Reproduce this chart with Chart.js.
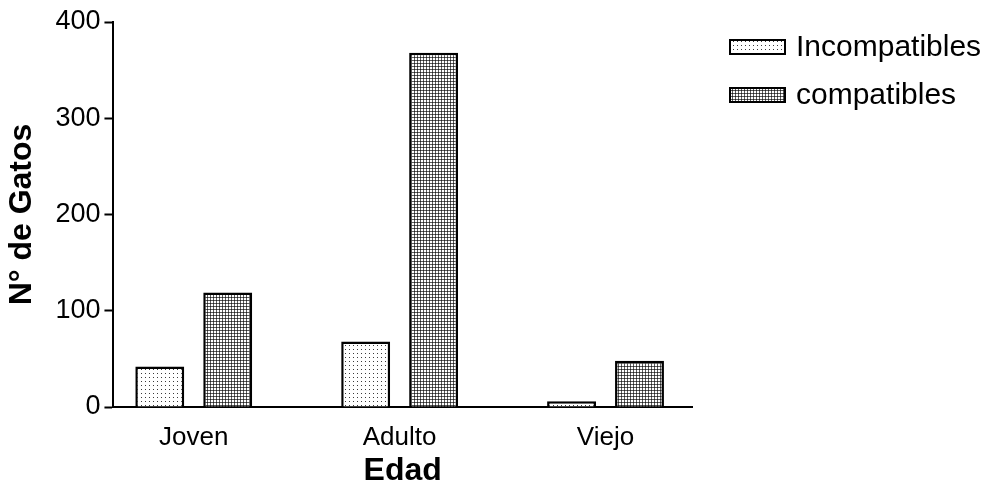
<!DOCTYPE html>
<html>
<head>
<meta charset="utf-8">
<script src="https://cdn.jsdelivr.net/npm/chart.js@4"></script>
<style>
  html, body { margin: 0; padding: 0; background: #fff; }
  #wrap { width: 989px; height: 486px; }
</style>
</head>
<body>
<div id="wrap"><canvas id="c" width="989" height="486"></canvas></div>
<script>
// Age groups and cat counts per compatibility result
const categories = ['Joven', 'Adulto', 'Viejo'];
const incompatibles = [42, 68, 6];
const compatibles = [119, 368, 48];
const seriesNames = ['Incompatibles', 'compatibles'];
const yTickValues = [0, 100, 200, 300, 400];

const FONT = '"Liberation Sans", Arial, Helvetica, sans-serif';

// Fill textures: sparse dots and a dense grey grid
function dotPattern() {
  const t = document.createElement('canvas');
  t.width = 4; t.height = 4;
  const g = t.getContext('2d');
  g.fillStyle = '#fff'; g.fillRect(0, 0, 4, 4);
  g.fillStyle = '#3a3a3a'; g.fillRect(1, 1, 1, 1);
  return g.createPattern(t, 'repeat');
}
function gridPattern() {
  const t = document.createElement('canvas');
  t.width = 3; t.height = 3;
  const g = t.getContext('2d');
  g.fillStyle = '#fff'; g.fillRect(0, 0, 3, 3);
  g.fillStyle = '#5c5c5c';
  g.fillRect(0, 0, 3, 1);
  g.fillRect(0, 0, 1, 3);
  g.fillStyle = '#222'; g.fillRect(0, 0, 1, 1);
  return g.createPattern(t, 'repeat');
}
const fills = [dotPattern(), gridPattern()];

// Legend drawn to the right of the plot area
const sideLegend = {
  id: 'sideLegend',
  afterDraw(chart) {
    const ctx = chart.ctx;
    const x0 = chart.chartArea.right + 38;
    const rows = [47, 95];
    ctx.save();
    chart.data.datasets.forEach((ds, i) => {
      const yc = rows[i];
      ctx.fillStyle = ds.backgroundColor;
      ctx.fillRect(x0, yc - 7, 55, 14);
      ctx.lineWidth = 2;
      ctx.strokeStyle = '#000';
      ctx.strokeRect(x0, yc - 7, 55, 14);
      ctx.fillStyle = '#000';
      ctx.font = '30px ' + FONT;
      ctx.textBaseline = 'middle';
      ctx.textAlign = 'left';
      ctx.fillText(ds.label, x0 + 66, yc + 1);
    });
    ctx.restore();
  }
};

const toPoints = arr => arr.map((v, i) => ({ x: i, y: v }));

new Chart(document.getElementById('c'), {
  type: 'bar',
  data: {
    datasets: [incompatibles, compatibles].map((arr, i) => ({
      label: seriesNames[i],
      data: toPoints(arr),
      backgroundColor: fills[i],
      borderColor: '#000',
      borderWidth: 2.5,
      borderSkipped: 'bottom',
      categoryPercentage: 0.66,
      barPercentage: 0.72
    }))
  },
  options: {
    responsive: false,
    animation: false,
    devicePixelRatio: 1,
    layout: { padding: { left: 3, right: 297, top: 22, bottom: 0 } },
    plugins: { legend: { display: false }, tooltip: { enabled: false } },
    scales: {
      x: {
        type: 'linear',
        offset: false,
        min: -0.39,
        max: 2.42,
        afterBuildTicks: s => { s.ticks = categories.map((_, i) => ({ value: i })); },
        ticks: {
          callback: v => categories[v],
          font: { family: FONT, size: 26 },
          color: '#000',
          padding: 15,
          autoSkip: false,
          maxRotation: 0
        },
        grid: { display: false, drawTicks: false },
        border: { display: true, color: '#000', width: 2 },
        title: {
          display: true, text: 'Edad', color: '#000',
          font: { family: FONT, size: 32, weight: 'bold', lineHeight: 0.9 },
          padding: { top: -11, bottom: 0 }
        }
      },
      y: {
        min: 0,
        max: 400,
        afterBuildTicks: s => { s.ticks = yTickValues.map(v => ({ value: v })); },
        ticks: {
          font: { family: FONT, size: 27 },
          color: '#000',
          padding: 4
        },
        grid: { display: true, drawOnChartArea: false, drawTicks: true, tickLength: 9, tickWidth: 2, tickColor: '#000' },
        border: { display: true, color: '#000', width: 2 },
        title: {
          display: true, text: 'N° de Gatos', color: '#000',
          font: { family: FONT, size: 32, weight: 'bold' },
          padding: { top: 0, bottom: 10 }
        }
      }
    }
  },
  plugins: [sideLegend]
});
</script>
</body>
</html>
